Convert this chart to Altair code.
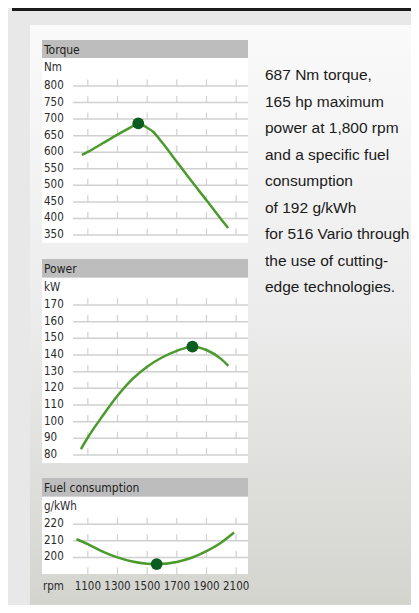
import altair as alt
import pandas as pd

# ---------------- data ----------------
rpm_ticks = [1100, 1300, 1500, 1700, 1900, 2100]
rpm_domain = [1000, 2180]

torque_rpm = [1060, 1100, 1200, 1300, 1400, 1440, 1500, 1540, 1600, 1700, 1800, 1900, 2000, 2046]
torque_nm = [592, 601, 627, 653, 678, 687, 674, 662, 630, 571, 512, 455, 397, 371]
torque_peak_rpm = [1440]
torque_peak_nm = [687]
torque_grid = [350, 400, 450, 500, 550, 600, 650, 700, 750, 800]

power_rpm = [1053, 1100, 1200, 1300, 1400, 1500, 1600, 1700, 1805, 1900, 2000, 2047]
power_kw = [83.5, 90.5, 103.5, 115.5, 125.5, 133, 138.5, 142.5, 145, 143, 137.5, 133.5]
power_peak_rpm = [1805]
power_peak_kw = [145]
power_grid = [80, 90, 100, 110, 120, 130, 140, 150, 160, 170]

fuel_rpm = [1024, 1100, 1200, 1300, 1400, 1500, 1564, 1700, 1800, 1900, 2000, 2086]
fuel_gkwh = [211, 208, 203.5, 200, 197.5, 196.2, 196, 197.3, 199.8, 203.8, 209, 215]
fuel_min_rpm = [1564]
fuel_min_gkwh = [196]
fuel_grid = [200, 210, 220]
fuel_tick_rows = [190, 200, 210, 220]

side_text = [
    "687 Nm torque,",
    "165 hp maximum",
    "power at 1,800 rpm",
    "and a specific fuel",
    "consumption",
    "of 192 g/kWh",
    "for 516 Vario through",
    "the use of cutting-",
    "edge technologies.",
]

# ---------------- style ----------------
FONT = "Noto Sans Condensed, Liberation Sans Narrow, DejaVu Sans Condensed, sans-serif"
SIDE_FONT = "Noto Sans ExtraCondensed, Noto Sans Condensed, sans-serif"
LINE_GREEN = "#4a9a2c"
DOT_GREEN = "#0b5c1f"
GRID = "#d0d0d0"
HEADER = "#bdbdbd"
X_RANGE = [65, 240]
BOX_X = (34, 240)

xs = alt.Scale(domain=rpm_domain, range=X_RANGE, nice=False, zero=False)


def panel(title, unit, grid_vals, tick_rows, tick_len, domain, yrange,
          header_top, box_top, box_bottom, rpm, vals, mrpm, mval):
    ys = alt.Scale(domain=domain, range=yrange, nice=False, zero=False)
    layers = []
    base_box = pd.DataFrame({"a": [0]})
    layers.append(alt.Chart(base_box).mark_rect(color=HEADER).encode(
        x=alt.value(BOX_X[0]), x2=alt.value(BOX_X[1]),
        y=alt.value(header_top), y2=alt.value(box_top)))
    layers.append(alt.Chart(base_box).mark_rect(color="white").encode(
        x=alt.value(BOX_X[0]), x2=alt.value(BOX_X[1]),
        y=alt.value(box_top), y2=alt.value(box_bottom)))
    layers.append(alt.Chart(base_box).mark_text(
        text=title, align="left", baseline="middle", font=FONT, fontSize=12,
        color="#1e1e1e").encode(x=alt.value(36), y=alt.value((header_top + box_top) / 2 + 0.5)))
    layers.append(alt.Chart(base_box).mark_text(
        text=unit, align="left", baseline="middle", font=FONT, fontSize=11.5,
        color="#2a2a2a").encode(x=alt.value(36), y=alt.value(box_top + 10)))

    gdf = pd.DataFrame({"v": grid_vals, "x0": rpm_domain[0], "x1": rpm_domain[1]})
    layers.append(alt.Chart(gdf).mark_rule(color=GRID, strokeWidth=1.5).encode(
        x=alt.X("x0:Q", scale=xs, axis=None), x2="x1:Q",
        y=alt.Y("v:Q", scale=ys, axis=None)))

    rows = []
    for v in tick_rows:
        for r in rpm_ticks:
            rows.append({"rpm": r, "v": v, "v2": v + tick_len})
    tdf = pd.DataFrame(rows)
    layers.append(alt.Chart(tdf).mark_rule(color=GRID, strokeWidth=1.2).encode(
        x=alt.X("rpm:Q", scale=xs, axis=None),
        y=alt.Y("v:Q", scale=ys, axis=None), y2="v2:Q"))

    ldf = pd.DataFrame({"v": grid_vals})
    layers.append(alt.Chart(ldf).mark_text(
        align="left", baseline="middle", font=FONT, fontSize=11.5,
        color="#2a2a2a").encode(
        x=alt.value(36), y=alt.Y("v:Q", scale=ys, axis=None),
        text=alt.Text("v:Q")))

    cdf = pd.DataFrame({"rpm": rpm, "val": vals})
    layers.append(alt.Chart(cdf).mark_line(
        color=LINE_GREEN, strokeWidth=2.5, interpolate="monotone").encode(
        x=alt.X("rpm:Q", scale=xs, axis=None),
        y=alt.Y("val:Q", scale=ys, axis=None)))
    mdf = pd.DataFrame({"rpm": mrpm, "val": mval})
    layers.append(alt.Chart(mdf).mark_circle(
        color=DOT_GREEN, opacity=1, size=140).encode(
        x=alt.X("rpm:Q", scale=xs, axis=None),
        y=alt.Y("val:Q", scale=ys, axis=None)))
    return layers


one = pd.DataFrame({"a": [0]})
grad = alt.LinearGradient(
    gradient="linear", x1=0, x2=0, y1=0, y2=1,
    stops=[alt.GradientStop(offset=0, color="#fafafa"),
           alt.GradientStop(offset=0.5, color="#ececec"),
           alt.GradientStop(offset=1, color="#d4d4cf")])

bg = alt.Chart(one).mark_rect(color=grad).encode(
    x=alt.value(22), x2=alt.value(403), y=alt.value(17), y2=alt.value(597))
topbar = alt.Chart(one).mark_rect(color="#1b1b1b").encode(
    x=alt.value(4), x2=alt.value(403), y=alt.value(0), y2=alt.value(3))

layers = [bg, topbar]
layers += panel("Torque", "Nm", torque_grid, torque_grid, 20, [350, 800], [227, 78],
                32, 50, 235, torque_rpm, torque_nm, torque_peak_rpm, torque_peak_nm)
layers += panel("Power", "kW", power_grid, power_grid, 4, [80, 170], [447, 297],
                251, 269.7, 455, power_rpm, power_kw, power_peak_rpm, power_peak_kw)
layers += panel("Fuel consumption", "g/kWh", fuel_grid, fuel_tick_rows, 4, [190, 220], [566, 516.3],
                470, 488.7, 566, fuel_rpm, fuel_gkwh, fuel_min_rpm, fuel_min_gkwh)

xl = pd.DataFrame({"rpm": rpm_ticks})
layers.append(alt.Chart(xl).mark_text(
    baseline="middle", align="center", font=FONT, fontSize=11.5, color="#2a2a2a").encode(
    x=alt.X("rpm:Q", scale=xs, axis=None), y=alt.value(579), text=alt.Text("rpm:Q")))
layers.append(alt.Chart(one).mark_text(
    text="rpm", align="left", baseline="middle", font=FONT, fontSize=11.5, color="#2a2a2a").encode(
    x=alt.value(35), y=alt.value(579)))

layers.append(alt.Chart(one).mark_text(
    text=side_text, align="left", baseline="alphabetic", font=SIDE_FONT, fontSize=15.5,
    lineHeight=26.5, color="#1a1a1a").encode(x=alt.value(257), y=alt.value(72)))

chart = alt.layer(*layers).resolve_scale(x="independent", y="independent").properties(
    width=403, height=597, padding=0, autosize=alt.AutoSizeParams(type="none")
).configure(background="#e8e8e8").configure_view(stroke=None)

chart.save("out.html", embed_options={"renderer": "svg", "actions": False})
